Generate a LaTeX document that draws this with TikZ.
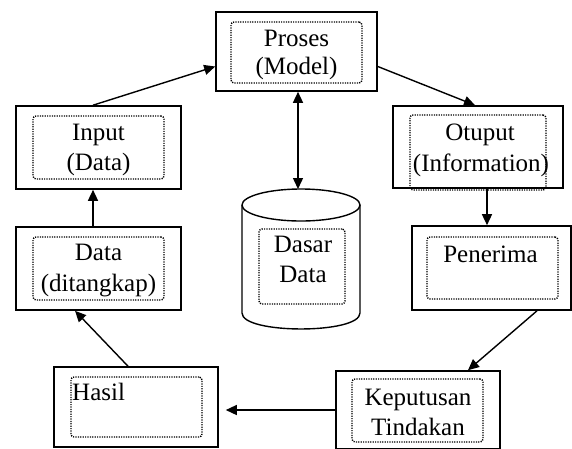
\documentclass[tikz,border=0pt]{standalone}
\usepackage{fontspec}
\setmainfont{Liberation Serif}
\usetikzlibrary{arrows.meta}
\begin{document}
\begin{tikzpicture}[x=1pt,y=-1pt,
  outerbox/.style={draw=black, line width=1.6pt, fill=white, inner sep=0pt, rectangle},
  innerbox/.style={draw=black, line width=1.4pt, dash pattern=on 1.2pt off 1.2pt, rounded corners=3pt, inner sep=0pt, rectangle},
  txt/.style={anchor=base, inner sep=0pt, font=\fontsize{25}{29}\selectfont, text=black},
  arr/.style={draw=black, line width=1.4pt, -{Triangle[length=11pt,width=10pt]}},
  darr/.style={draw=black, line width=1.4pt, {Triangle[length=11pt,width=10pt]}-{Triangle[length=11pt,width=10pt]}},
  cylline/.style={draw=black, line width=1.4pt}
]
\useasboundingbox (0,0) rectangle (572,448);
\fill[white] (0,0) rectangle (572,448);

% Proses
\node[outerbox, minimum width=161pt, minimum height=79pt] (proses) at (296.5,51.5) {};
\node[innerbox, minimum width=131pt, minimum height=61pt] (prosesIn) at (296.5,52.5) {};
\node[txt] (prosesT1) at (296.5,46) {Proses};
\node[txt] (prosesT2) at (296.5,74) {(Model)};

% Input
\node[outerbox, minimum width=165pt, minimum height=83pt] (input) at (98.5,147.5) {};
\node[innerbox, minimum width=131pt, minimum height=63pt] (inputIn) at (98.5,147.5) {};
\node[txt] (inputT1) at (98.5,140) {Input};
\node[txt] (inputT2) at (98.5,170) {(Data)};

% Otuput
\node[outerbox, minimum width=170pt, minimum height=82pt] (otuput) at (478,147) {};
\node[innerbox, minimum width=136pt, minimum height=75pt] (otuputIn) at (478,152.5) {};
\node[txt] (otuputT1) at (480,140) {Otuput};
\node[txt] (otuputT2) at (481,171) {(Information)};

% Data (ditangkap)
\node[outerbox, minimum width=165pt, minimum height=83pt] (data) at (98.5,268.5) {};
\node[innerbox, minimum width=131pt, minimum height=63pt] (dataIn) at (98.5,268.5) {};
\node[txt] (dataT1) at (98.5,260) {Data};
\node[txt] (dataT2) at (98.5,291) {(ditangkap)};

% Penerima
\node[outerbox, minimum width=159pt, minimum height=84pt] (penerima) at (491.5,268) {};
\node[innerbox, minimum width=131pt, minimum height=62pt] (penerimaIn) at (492.5,268) {};
\node[txt] (penerimaT) at (490.5,262) {Penerima};

% Hasil
\node[outerbox, minimum width=164pt, minimum height=80pt] (hasil) at (136,407) {};
\node[innerbox, minimum width=131pt, minimum height=60pt] (hasilIn) at (136.5,407) {};
\node[txt, anchor=base west] (hasilT) at (72,400) {Hasil};

% Keputusan Tindakan
\node[outerbox, minimum width=164pt, minimum height=78pt] (kep) at (418,410) {};
\node[innerbox, minimum width=131pt, minimum height=63pt] (kepIn) at (417.5,410.5) {};
\node[txt] (kepT1) at (418,405) {Keputusan};
\node[txt] (kepT2) at (418,435) {Tindakan};

% Cylinder (Dasar Data)
\fill[white] (242,205) -- (242,313) .. controls (242,334.3) and (360,334.3) .. (360,313) -- (360,205) -- cycle;
\draw[cylline] (242,205) -- (242,313) .. controls (242,334.3) and (360,334.3) .. (360,313) -- (360,205);
\draw[cylline, fill=white] (301,205) ellipse [x radius=59, y radius=16];
\coordinate (cyltop) at (298,189);
\node[innerbox, minimum width=86pt, minimum height=75pt] (cylIn) at (302,266.5) {};
\node[txt] (cylT1) at (303,252) {Dasar};
\node[txt] (cylT2) at (303,282) {Data};

% Connectors
\draw[arr] ([xshift=-5.5pt]input.north) -- ([yshift=-15pt]proses.west);
\draw[arr] ([yshift=-15pt]proses.east) -- ([xshift=-3pt]otuput.north);
\draw[darr] ([xshift=1.5pt]proses.south) -- (cyltop);
\draw[arr] ([xshift=9pt]otuput.south) -- ([xshift=9pt]otuput.south |- penerima.north);
\draw[arr] ([xshift=45.5pt]penerima.south) -- ([xshift=50pt]kep.north);
\draw[arr] (kep.west) -- ([xshift=7pt]hasil.east |- kep.west);
\draw[arr] ([xshift=-8pt]hasil.north) -- ([xshift=-23.5pt]data.south);
\draw[arr] ([xshift=-5.5pt]data.north) -- ([xshift=-5.5pt]input.south);
\end{tikzpicture}
\end{document}
